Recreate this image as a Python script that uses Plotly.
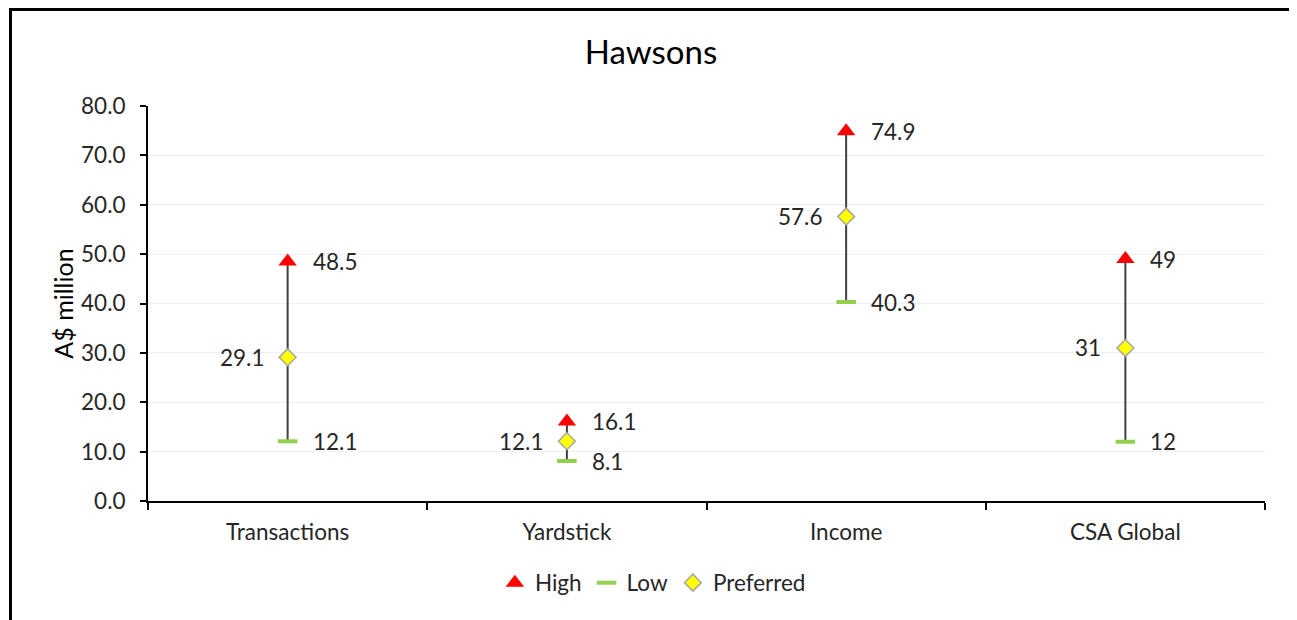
import plotly.graph_objects as go

categories = ["Transactions", "Yardstick", "Income", "CSA Global"]
high = [48.5, 16.1, 74.9, 49]
low = [12.1, 8.1, 40.3, 12]
preferred = [29.1, 12.1, 57.6, 31]
high_labels = ["48.5", "16.1", "74.9", "49"]
low_labels = ["12.1", "8.1", "40.3", "12"]
pref_labels = ["29.1", "12.1", "57.6", "31"]
y_ticks = [0, 10, 20, 30, 40, 50, 60, 70, 80]

FONT = "Lato"
TXT = "#262626"
FS = 22.5

fig = go.Figure()

# vertical high-low lines
lx, ly = [], []
for c, h, l in zip(categories, high, low):
    lx += [c, c, None]
    ly += [l, h, None]
fig.add_trace(go.Scatter(x=lx, y=ly, mode="lines", line=dict(color="#404040", width=2),
                         showlegend=False, hoverinfo="skip"))

fig.add_trace(go.Scatter(x=categories, y=high, mode="markers", name="High",
                         marker=dict(symbol="triangle-up", size=16, color="#ff0000",
                                     line=dict(width=0))))
fig.add_trace(go.Scatter(x=categories, y=low, mode="markers", name="Low",
                         marker=dict(symbol="line-ew", size=14, color="#92d050",
                                     line=dict(width=4, color="#92d050"))))
fig.add_trace(go.Scatter(x=categories, y=preferred, mode="markers", name="Preferred",
                         marker=dict(symbol="diamond", size=13, color="#ffff00",
                                     line=dict(width=1.5, color="#a6a6a6"))))

for c, v, t in zip(categories, high, high_labels):
    fig.add_annotation(x=c, y=v, text=t, showarrow=False, xanchor="left", xshift=23,
                       font=dict(family=FONT, size=FS, color=TXT))
for c, v, t in zip(categories, low, low_labels):
    fig.add_annotation(x=c, y=v, text=t, showarrow=False, xanchor="left", xshift=23,
                       font=dict(family=FONT, size=FS, color=TXT))
for c, v, t in zip(categories, preferred, pref_labels):
    fig.add_annotation(x=c, y=v, text=t, showarrow=False, xanchor="right", xshift=-22,
                       font=dict(family=FONT, size=FS, color=TXT))

# outer frame
fig.add_shape(type="rect", xref="paper", yref="paper", x0=-0.1231, x1=1.0237,
              y0=-0.4, y1=1.2443, line=dict(color="black", width=3), layer="below")

fig.update_layout(
    width=1297, height=620,
    margin=dict(l=140, r=40, t=98, b=127),
    paper_bgcolor="white", plot_bgcolor="white",
    font=dict(family=FONT, size=FS, color=TXT),
    title=dict(text="Hawsons", x=(651 - 8) / 1297, xref="container", xanchor="center",
               y=1 - 44 / 620, yanchor="middle",
               font=dict(family=FONT, size=33, color="black")),
    showlegend=True,
    legend=dict(orientation="h", x=0.452, xanchor="center", y=-0.2076, yanchor="middle",
                font=dict(family=FONT, size=FS, color=TXT), itemwidth=30),
    xaxis=dict(type="category", range=[-0.5, 3.5], showline=True, linecolor="black",
               linewidth=2, ticks="outside", tickson="boundaries", ticklen=7,
               tickcolor="black", tickwidth=2, showgrid=False, ticklabelstandoff=10,
               tickfont=dict(family=FONT, size=FS, color=TXT)),
    yaxis=dict(range=[0, 80], tickvals=y_ticks, ticktext=[f"{v:.1f}" for v in y_ticks],
               showline=True, linecolor="black", linewidth=2, ticks="outside", ticklen=6,
               tickcolor="black", tickwidth=2, showgrid=True, gridcolor="#efefef",
               gridwidth=1, zeroline=False, ticklabelstandoff=10,
               tickfont=dict(family=FONT, size=FS, color=TXT),
               title=dict(text="A$ million", standoff=0,
                          font=dict(family=FONT, size=25, color="black"))),
)

fig.write_html("out.html")
